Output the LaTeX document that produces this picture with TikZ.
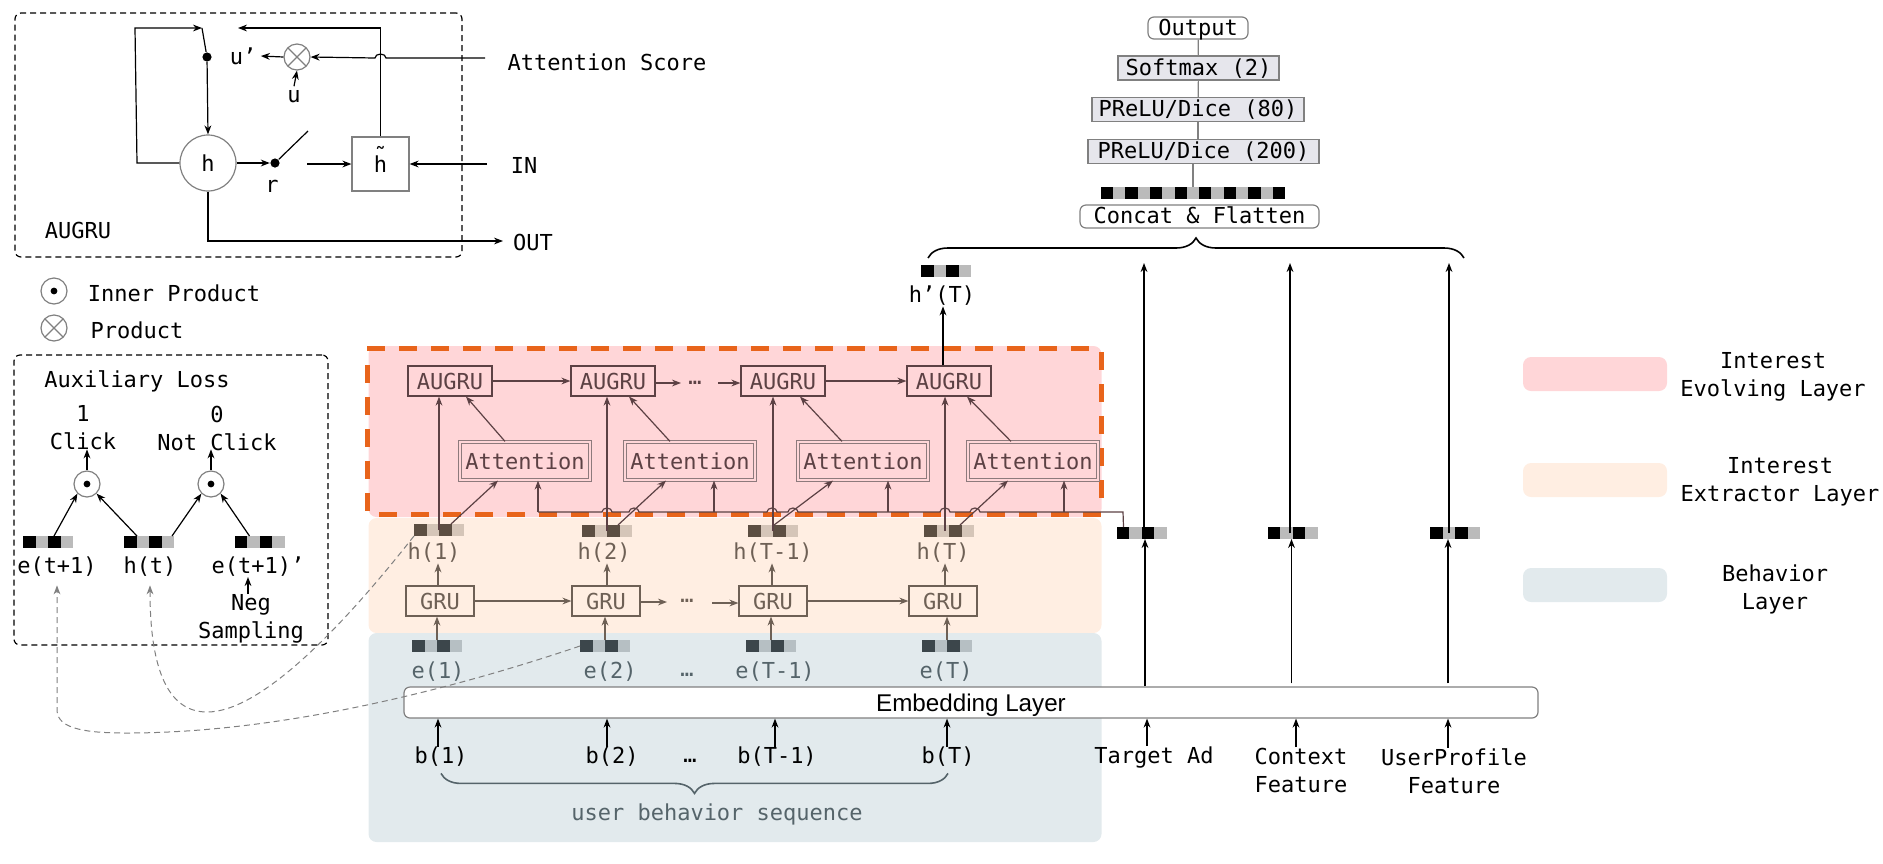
\documentclass[tikz,border=0pt]{standalone}
\usepackage{fontspec}
\setmainfont{DejaVu Sans Mono}
\newfontfamily\embfont{Liberation Sans}
\usetikzlibrary{arrows.meta}
\usetikzlibrary{decorations.pathreplacing}
\definecolor{evolvefill}{HTML}{FFD6D8}
\definecolor{extractfill}{HTML}{FFEEE2}
\definecolor{behavefill}{HTML}{E2EAED}
\definecolor{dashorange}{HTML}{E8641B}
\definecolor{evolveink}{HTML}{5C4144}
\definecolor{extractink}{HTML}{6E6055}
\definecolor{behaveink}{HTML}{55646A}
\definecolor{hdark}{HTML}{5C4E42}
\definecolor{hlight}{HTML}{D5C5B8}
\definecolor{edark}{HTML}{3C464B}
\definecolor{elight}{HTML}{B6BFC3}
\definecolor{plain}{HTML}{BBBBBB}
\definecolor{stackfill}{HTML}{E6E6EC}
\newcommand{\cellbar}[4]{
  \node[barcell, fill=#4] (#1) at (#2) {};
  \fill[#3] (#1.north west) rectangle +(12.5,12);
  \fill[#3] ([xshift=12.5pt]#1.north west) rectangle +(12.5,12);
}
\newcommand{\bushop}[1]{-- (#1-5,512) arc[start angle=180, end angle=360, x radius=5, y radius=4]}

\begin{document}
\begin{tikzpicture}[x=0.5pt, y=-0.5pt, >={Stealth[length=4.5pt, width=3.4pt]}, line width=0.6pt, font=\fontsize{11}{14}\selectfont]
  \tikzset{lab/.style={inner sep=0pt, align=center}}
  \tikzset{layer/.style={rounded corners=4pt, minimum width=366.5pt, inner sep=0pt}}
  \tikzset{legend/.style={rounded corners=4pt, minimum width=72pt, minimum height=17pt, inner sep=0pt}}
  \tikzset{barcell/.style={minimum width=25pt, minimum height=6pt, inner sep=0pt, outer sep=0pt}}
  \tikzset{augbox/.style={draw=evolveink, text=evolveink, minimum width=42pt, minimum height=15pt, inner sep=0pt}}
  \tikzset{attbox/.style={draw=evolveink!70, double=evolvefill, double distance=1pt, text=evolveink, minimum width=65pt, minimum height=19pt, inner sep=0pt}}
  \tikzset{grubox/.style={draw=extractink, text=extractink, minimum width=34pt, minimum height=15pt, inner sep=0pt}}
  \tikzset{stack/.style={draw=gray, fill=stackfill, minimum height=12pt, inner sep=0pt, text height=9pt, text depth=2pt}}
  \tikzset{pill/.style={draw=gray, fill=white, rounded corners=3pt, inner sep=0pt, text height=9pt, text depth=2pt}}
  \tikzset{prod/.style={circle, draw=gray, minimum size=13pt, inner sep=0pt, path picture={\draw[gray] (path picture bounding box.north west) -- (path picture bounding box.south east) (path picture bounding box.north east) -- (path picture bounding box.south west);}}}
  \tikzset{inner/.style={circle, draw=gray, minimum size=13pt, inner sep=0pt, path picture={\fill (path picture bounding box.center) circle (1.7pt);}}}
  \tikzset{swdot/.style={circle, fill=black, minimum size=4.6pt, inner sep=0pt}}
  \tikzset{sample/.style={densely dashed, gray, line width=0.5pt}}
  \tikzset{framed/.style={draw, densely dashed, rounded corners=3pt, line width=0.6pt}}
  \useasboundingbox (0,0) rectangle (1883,863);

  % the three layers
  \node[layer, fill=evolvefill, minimum height=85.5pt] (evolve) at (735,431.5) {};
  \node[layer, fill=extractfill, minimum height=57.5pt] (extract) at (735,575.5) {};
  \node[layer, fill=behavefill, minimum height=104.5pt] (behave) at (735,737.5) {};
  \draw[dashorange, line width=2.5pt, dash pattern=on 9pt off 7pt] (367,348.5) -- (1103,348.5) (1101.5,352) -- (1101.5,512) (379,514.5) -- (1104,514.5) (367.5,365) -- (367.5,512);

  % legend on the right
  \node[legend, fill=evolvefill] (legevolve) at (1595,374) {};
  \node[legend, fill=extractfill] (legextract) at (1595,480) {};
  \node[legend, fill=behavefill] (legbehave) at (1595,585) {};
  \node[lab] (txtevolve) at (1773,377) {Interest\\Evolving Layer};
  \node[lab] (txtextract) at (1780,482) {Interest\\Extractor Layer};
  \node[lab] (txtbehave) at (1775,589) {Behavior\\ Layer};

  % AUGRU cell
  \node[framed, minimum width=223.5pt, minimum height=122pt] (augcell) at (238.5,135) {};
  \node[lab] (augname) at (78,230) {AUGRU};
  \node[circle, draw=gray, minimum size=28pt, inner sep=0pt] (hcell) at (208,163) {h};
  \node[draw=gray, minimum width=28.5pt, minimum height=27pt, inner sep=0pt] (hbox) at (380.5,164) {\smash{\rlap{\raisebox{4.5pt}{\symbol{"02DC}}}}h};
  \node[swdot] (udot) at (207,57) {};
  \node[swdot] (rdot) at (275,163) {};
  \node[prod] (ucross) at (297,57) {};
  \node[lab] (uprime) at (243,56) {u'};
  \node[lab] (ulab) at (294,97) {u};
  \node[lab] (rlab) at (272,186) {r};
  \node[lab] (scorelab) at (607,62) {Attention Score};
  \node[lab] (inlab) at (524,165) {IN};
  \node[lab] (outlab) at (533,242) {OUT};
  \coordinate (swleft) at (202,28);
  \coordinate (swright) at (238,28);
  \coordinate (swarm) at (308,131);
  \coordinate (swgap) at (307,164);
  \coordinate (scorein) at (485,58);
  \coordinate (inin) at (487,164);
  \coordinate (outend) at (503,241);

  \draw[->] (hcell.west) -- (137,163) -- (135,28) -- (swleft);
  \draw (swleft) -- (udot);
  \draw[->] (udot) -- (hcell.north);
  \draw[->] (hcell.east) -- (rdot);
  \draw (rdot) -- (swarm);
  \draw[->] (swgap) -- (hbox.west);
  \draw[->] (inin) -- (hbox.east);
  \draw[->] (hbox.north) |- (swright);
  \draw[->] (scorein) -- (386,58) arc[start angle=0, end angle=-180, x radius=5.5, y radius=4] -- (ucross.east);
  \draw[->] (ucross.west) -- ([xshift=2pt]uprime.east);
  \draw[->] ([yshift=2pt]ulab.north) -- (ucross.south);
  \draw[->] (hcell.south) |- (outend);

  % legend of the two products
  \node[inner] (legdot) at (54,291) {};
  \node[prod] (legcross) at (54,328) {};
  \node[lab] (txtdot) at (174,293) {Inner Product};
  \node[lab] (txtcross) at (137,330) {Product};

  % auxiliary loss
  \node[framed, minimum width=157pt, minimum height=145pt] (auxbox) at (171,500) {};
  \node[lab] (auxname) at (137,381) {Auxiliary Loss};
  \node[lab] (clickone) at (83,428) {1\\Click};
  \node[lab] (clicknot) at (217,428) {0\\Not Click};
  \node[inner] (dotone) at (87,484) {};
  \node[inner] (dotnot) at (211,484) {};
  \cellbar{auxe}{48,542}{black}{plain}
  \cellbar{auxh}{149,542}{black}{plain}
  \cellbar{auxn}{259.5,542}{black}{plain}
  \node[lab] (auxelab) at (57,567) {e(t+1)};
  \node[lab] (auxhlab) at (150,567) {h(t)};
  \node[lab] (auxnlab) at (258,567) {e(t+1)'};
  \node[lab] (negsamp) at (251,619) {Neg\\Sampling};

  \draw[->] ([xshift=3pt]auxe.north) -- (dotone.south west);
  \draw[->] ([xshift=-6pt]auxh.north) -- (dotone.south east);
  \draw[->] ([xshift=11.5pt]auxh.north) -- (dotnot.south west);
  \draw[->] ([xshift=-5pt]auxn.north) -- (dotnot.south east);
  \draw[->] (dotone.north) -- ++(0,-21);
  \draw[->] (dotnot.north) -- ++(0,-21);
  \draw[->] ([xshift=-1.5pt]negsamp.north) -- ++(0,-17);

  % Interest Evolving Layer
  \node[augbox] (aug1) at (450,381) {AUGRU};
  \node[augbox] (aug2) at (613,381) {AUGRU};
  \node[augbox] (aug3) at (783,381) {AUGRU};
  \node[augbox] (aug4) at (949,381) {AUGRU};
  \node[attbox] (att1) at (525,461) {Attention};
  \node[attbox] (att2) at (690,461) {Attention};
  \node[attbox] (att3) at (863,461) {Attention};
  \node[attbox] (att4) at (1033,461) {Attention};
  \node[lab, text=evolveink] (augdots) at (695,383) {…};
  \coordinate (auggapl) at (681,383);
  \coordinate (auggapr) at (718,383);

  \draw[->, evolveink] (aug1) -- (aug2);
  \draw[->, evolveink] (aug2.east |- auggapl) -- (auggapl);
  \draw[->, evolveink] (auggapr) -- (aug3.west |- auggapr);
  \draw[->, evolveink] (aug3) -- (aug4);
  \draw[->, evolveink] ([xshift=-10pt]att1.north) -- ([xshift=8pt]aug1.south);
  \draw[->, evolveink] ([xshift=-10pt]att2.north) -- ([xshift=8pt]aug2.south);
  \draw[->, evolveink] ([xshift=-10.5pt]att3.north) -- ([xshift=8.5pt]aug3.south);
  \draw[->, evolveink] ([xshift=-11pt]att4.north) -- ([xshift=9pt]aug4.south);

  % Interest Extractor Layer
  \cellbar{hbar1}{439,530}{hdark}{hlight}
  \cellbar{hbar2}{607,531}{hdark}{hlight}
  \cellbar{hbar3}{773,531}{hdark}{hlight}
  \cellbar{hbar4}{949,531}{hdark}{hlight}
  \node[lab, text=extractink] (h1) at (434,553) {h(1)};
  \node[lab, text=extractink] (h2) at (604,553) {h(2)};
  \node[lab, text=extractink] (h3) at (773,553) {h(T-1)};
  \node[lab, text=extractink] (h4) at (943,553) {h(T)};
  \node[grubox] (gru1) at (440,601) {GRU};
  \node[grubox] (gru2) at (606,601) {GRU};
  \node[grubox] (gru3) at (773,601) {GRU};
  \node[grubox] (gru4) at (943,601) {GRU};
  \node[lab, text=extractink] (grudots) at (687,601) {…};
  \coordinate (grugapl) at (667,602);
  \coordinate (grugapr) at (712,603);

  \draw[->, extractink] (gru1) -- (gru2);
  \draw[->, extractink] (gru2.east |- grugapl) -- (grugapl);
  \draw[->, extractink] (grugapr) -- (gru3.west |- grugapr);
  \draw[->, extractink] (gru3) -- (gru4);
  \draw[->, extractink] ([xshift=-1pt]gru1.north) -- ([xshift=-1pt]gru1.north |- h1.south);
  \draw[->, extractink] ([xshift=0.5pt]gru2.north) -- ([xshift=0.5pt]gru2.north |- h2.south);
  \draw[->, extractink] ([xshift=-0.5pt]gru3.north) -- ([xshift=-0.5pt]gru3.north |- h3.south);
  \draw[->, extractink] ([xshift=1pt]gru4.north) -- ([xshift=1pt]gru4.north |- h4.south);

  % hidden states into the upper layer
  \draw[->, evolveink] (hbar1.center) -- (hbar1.center |- aug1.south);
  \draw[->, evolveink] (hbar2.center) -- (hbar2.center |- aug2.south);
  \draw[->, evolveink] (hbar3.center) -- (hbar3.center |- aug3.south);
  \draw[->, evolveink] ([xshift=-2pt]hbar4.center) -- ([xshift=-2pt]hbar4.center |- aug4.south);
  \draw[->, evolveink] ([xshift=6pt]hbar1.north) -- ([xshift=-13.5pt]att1.south);
  \draw[->, evolveink] ([xshift=5.5pt]hbar2.north) -- ([xshift=-12pt]att2.south);
  \draw[->, evolveink] ([xshift=0.5pt]hbar3.north) -- ([xshift=-15pt]att3.south);
  \draw[->, evolveink] ([xshift=5.5pt]hbar4.north) -- ([xshift=-12.5pt]att4.south);

  % target ad feeding every attention
  \cellbar{tbar}{1141.5,533}{black}{plain}
  \cellbar{cbar}{1292.5,533}{black}{plain}
  \cellbar{ubar}{1455,533}{black}{plain}
  \coordinate (bus1) at (538,512);
  \coordinate (bus2) at (714,512);
  \coordinate (bus3) at (888,512);
  \coordinate (bus4) at (1064,512);
  \draw[evolveink] (bus1) \bushop{607} \bushop{634} \bushop{772} \bushop{793} \bushop{945} \bushop{975} -- (1123,512) -- ([xshift=-9pt]tbar.north);
  \draw[->, evolveink] (bus1) -- (bus1 |- att1.south);
  \draw[->, evolveink] (bus2) -- (bus2 |- att2.south);
  \draw[->, evolveink] (bus3) -- (bus3 |- att3.south);
  \draw[->, evolveink] (bus4) -- (bus4 |- att4.south);

  % Behavior Layer
  \cellbar{ebar1}{437,646}{edark}{elight}
  \cellbar{ebar2}{605,646}{edark}{elight}
  \cellbar{ebar3}{771,646}{edark}{elight}
  \cellbar{ebar4}{947,646}{edark}{elight}
  \node[lab, text=behaveink] (e1) at (438,672) {e(1)};
  \node[lab, text=behaveink] (e2) at (610,672) {e(2)};
  \node[lab, text=behaveink] (e3) at (775,672) {e(T-1)};
  \node[lab, text=behaveink] (e4) at (946,672) {e(T)};
  \node[lab, text=behaveink] (edots) at (687,675) {…};
  \node[pill, minimum width=567pt, minimum height=15.5pt, text height=10.5pt, font=\embfont\fontsize{12.1}{14}\selectfont] (emb) at (971,702.5) {Embedding Layer};
  \node[lab] (b1) at (441,757) {b(1)};
  \node[lab] (b2) at (612,757) {b(2)};
  \node[lab] (b3) at (777,757) {b(T-1)};
  \node[lab] (b4) at (948,757) {b(T)};
  \node[lab] (bdots) at (690,761) {…};
  \node[lab, text=behaveink] (seqlab) at (717,814) {user behavior sequence};

  \draw[->, extractink] (ebar1.north) -- (ebar1.north |- gru1.south);
  \draw[->, extractink] (ebar2.north) -- (ebar2.north |- gru2.south);
  \draw[->, extractink] (ebar3.north) -- (ebar3.north |- gru3.south);
  \draw[->, extractink] (ebar4.north) -- (ebar4.north |- gru4.south);
  \draw[->] ([xshift=-1.5pt]b1.north) -- ([xshift=-1.5pt]b1.north |- emb.south);
  \draw[->] ([xshift=-2.5pt]b2.north) -- ([xshift=-2.5pt]b2.north |- emb.south);
  \draw[->] ([xshift=-1pt]b3.north) -- ([xshift=-1pt]b3.north |- emb.south);
  \draw[->] ([xshift=-0.5pt]b4.north) -- ([xshift=-0.5pt]b4.north |- emb.south);
  \draw[decorate, decoration={brace, amplitude=10pt}, behaveink, line width=0.8pt] ([yshift=-3pt]b4.south) -- ([yshift=-3pt]b1.south);

  % the other features
  \node[lab] (adlab) at (1154,757) {Target Ad};
  \node[lab] (ctxlab) at (1301,770) {Context\\Feature};
  \node[lab] (uplab) at (1454,771) {UserProfile\\Feature};
  \draw[->] ([xshift=-3.5pt]adlab.north) -- ([xshift=-3.5pt]adlab.north |- emb.south);
  \draw[->] ([xshift=-2.5pt]ctxlab.north) -- ([xshift=-2.5pt]ctxlab.north |- emb.south);
  \draw[->] ([xshift=-3pt]uplab.north) -- ([xshift=-3pt]uplab.north |- emb.south);
  \draw[->] ([xshift=1.75pt]emb.north -| tbar) -- ([xshift=1.75pt]tbar.south);
  \draw[->] ([yshift=1.5pt,xshift=-0.5pt]emb.north -| cbar) -- ([xshift=-0.5pt]cbar.south);
  \draw[->] ([yshift=1.5pt,xshift=-3.5pt]emb.north -| ubar) -- ([xshift=-3.5pt]ubar.south);
  \coordinate (adtop) at (1144,263);
  \coordinate (ctxtop) at (1290,263);
  \coordinate (uptop) at (1449,263);
  \draw[->] (tbar.center -| adtop) -- (adtop);
  \draw[->] (cbar.center -| ctxtop) -- (ctxtop);
  \draw[->] (ubar.center -| uptop) -- (uptop);

  % top of the network
  \cellbar{hpbar}{946,271}{black}{plain}
  \node[lab] (hplab) at (942,296) {h'(T)};
  \draw[->] ([xshift=-3pt]aug4.north) -- ([xshift=-3pt]aug4.north |- hplab.south);
  \draw[decorate, decoration={brace, amplitude=10pt}, line width=0.8pt] (928,258) -- (1464,258);
  \node[pill, minimum width=119.5pt, minimum height=11.5pt] (concat) at (1199.5,216.5) {Concat \& Flatten};
  \node[barcell, fill=plain, minimum width=92.25pt] (flat) at (1193,193) {};
  \foreach \i in {0,...,7} \fill[black] ([xshift=\i*12.3pt]flat.north west) rectangle +(12.3,12);
  \node[stack, minimum width=115.5pt] (fc200) at (1203.5,151.5) {PReLU/Dice (200)};
  \node[stack, minimum width=106pt] (fc80) at (1198,109.5) {PReLU/Dice (80)};
  \node[stack, minimum width=80.5pt] (softmax) at (1198.5,68) {Softmax (2)};
  \node[pill, minimum width=50pt, minimum height=11pt] (output) at (1198,28) {Output};
  \draw[gray] (output) -- (softmax);
  \draw[gray] (softmax) -- (fc80);
  \draw[gray] (fc80) -- (fc80 |- fc200.north);
  \draw[gray] (flat.north) -- (flat.north |- fc200.south);

  % sampled connections into the loss
  \draw[->, sample] (hbar1.south west) .. controls (340,630) and (260,712) .. (207,712) .. controls (160,712) and (150,650) .. ([yshift=-4pt]auxhlab.south);
  \draw[->, sample] (ebar2.west) .. controls (450,690) and (280,733) .. (127,733) .. controls (90,733) and (57,730) .. (57,710) -- ([yshift=-4pt]auxelab.south);
\end{tikzpicture}
\end{document}
